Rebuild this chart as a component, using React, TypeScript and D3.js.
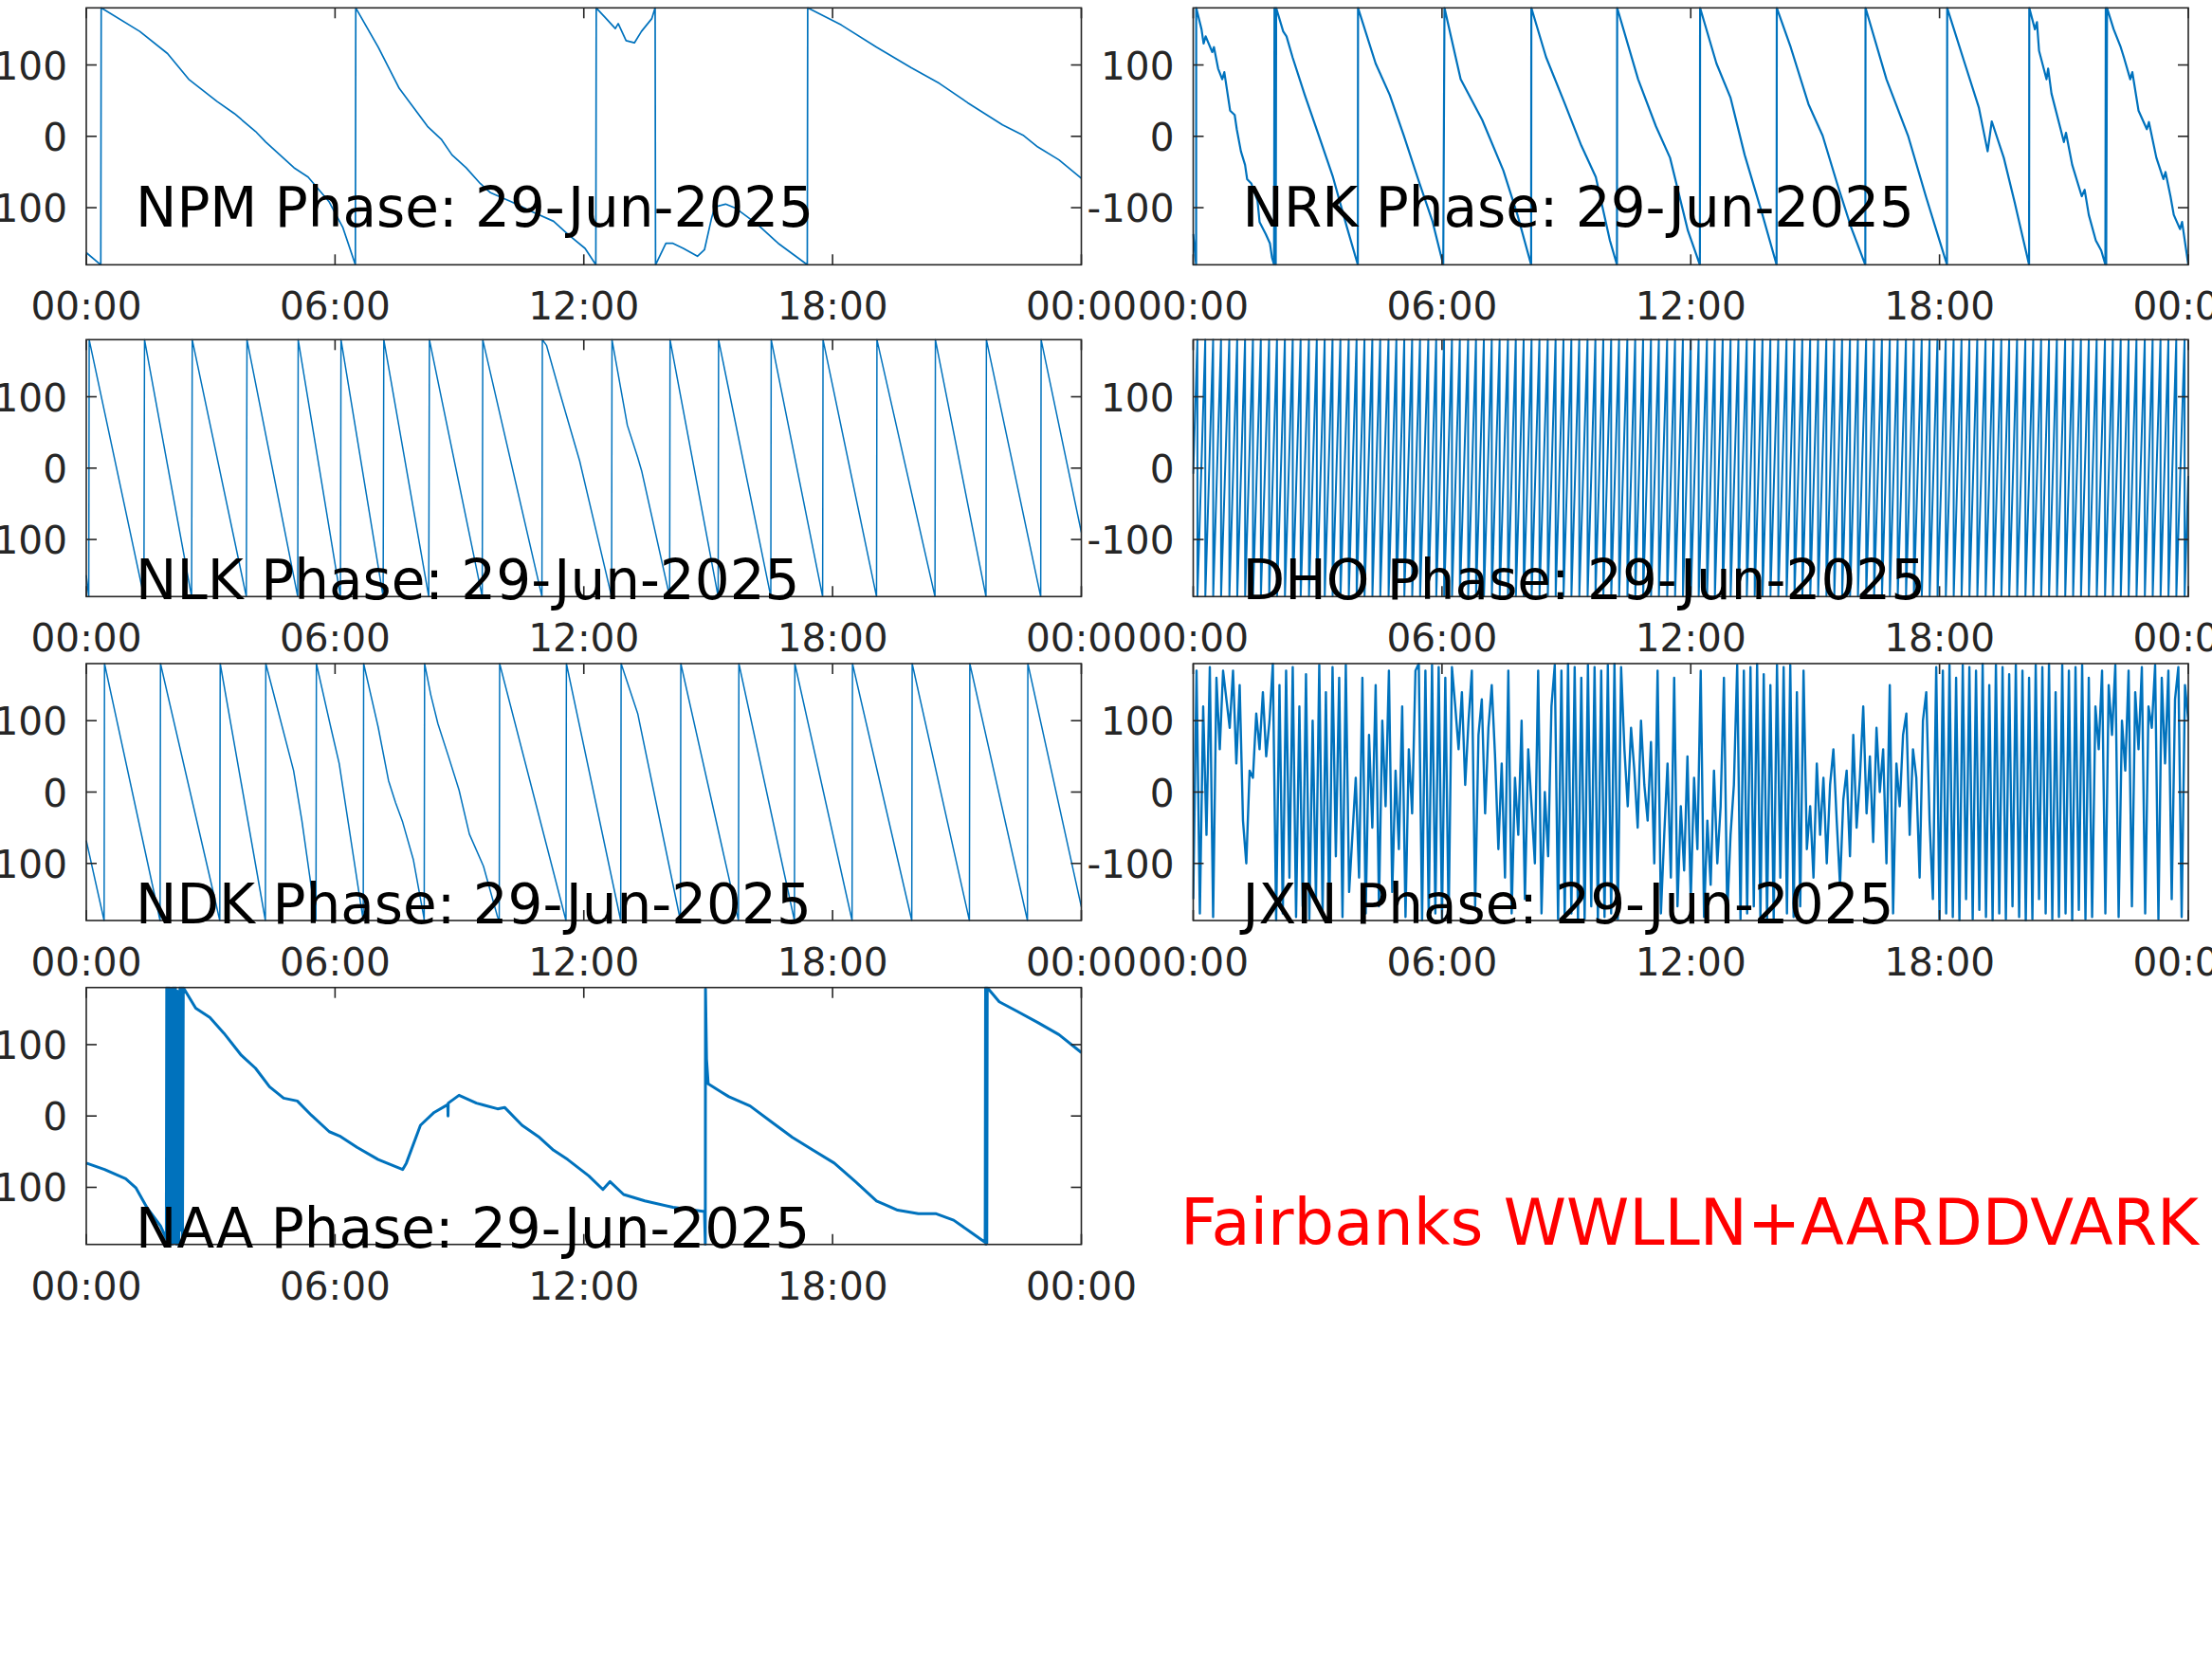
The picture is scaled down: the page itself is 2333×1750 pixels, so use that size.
import React from 'react';
import * as d3 from 'd3';

// ---------- data (hours since 00:00, phase in degrees) ----------
const dateLabel = '29-Jun-2025';
const xTickHours = [0, 6, 12, 18, 24];
const xTickLabels = ['00:00', '06:00', '12:00', '18:00', '00:00'];
const yTickValues = [-100, 0, 100];
const yTickLabels = ['-100', '0', '100'];
const footerText = 'Fairbanks WWLLN+AARDDVARK';

const npmPoints: [number, number][] = [
  [0, -163], [0.35, -180], [0.36, 180], [1.29, 147], [1.96, 116], [2.47, 80], [3.15, 49], [3.57, 32],
  [4.08, 7], [4.33, -8], [4.67, -26], [5.01, -44], [5.35, -57], [5.86, -92], [6.19, -128], [6.49, -180],
  [6.5, 180], [7.04, 125], [7.55, 67], [8.23, 14], [8.56, -4], [8.82, -26], [9.16, -44], [9.5, -66],
  [9.75, -79], [10.26, -92], [10.76, -106], [11.27, -119], [11.61, -137], [12.03, -157], [12.29, -180],
  [12.3, 180], [12.54, 165], [12.76, 151], [12.83, 158], [13.02, 134], [13.22, 131], [13.39, 147],
  [13.64, 165], [13.72, 180], [13.73, -180], [13.98, -150], [14.15, -150], [14.4, -157], [14.74, -168],
  [14.91, -159], [15.08, -115], [15.16, -99], [15.42, -95], [15.67, -101], [16.18, -123], [16.69, -150],
  [17.39, -180], [17.4, 180], [18.21, 156], [19.06, 125], [19.9, 96], [20.58, 74], [21.26, 47],
  [22.1, 16], [22.61, 1], [22.95, -15], [23.46, -33], [24, -59],
];

const nrkPoints: [number, number][] = [
  [0, -137], [0.07, -180], [0.072, 180], [0.2, 150], [0.25, 130], [0.3, 140], [0.46, 118], [0.5, 125],
  [0.6, 95], [0.7, 80], [0.75, 90], [0.89, 36], [1.0, 30], [1.05, 10], [1.15, -21], [1.25, -40],
  [1.3, -60], [1.4, -66], [1.55, -90], [1.6, -120], [1.75, -137], [1.85, -150], [1.9, -170],
  [1.95, -180], [1.96, 180], [1.98, 120], [1.99, -180], [2.0, 180], [2.17, 147], [2.25, 140],
  [2.4, 110], [2.69, 58], [3.03, 1], [3.37, -57], [3.71, -128], [3.97, -180], [3.975, 180], [4.4, 102],
  [4.74, 58], [5.08, 1], [5.43, -61], [5.77, -119], [6.03, -180], [6.06, 180], [6.45, 80], [6.97, 23],
  [7.48, -48], [7.82, -110], [8.15, -180], [8.155, 180], [8.51, 111], [8.94, 49], [9.36, -13],
  [9.71, -57], [10.05, -146], [10.22, -180], [10.225, 180], [10.73, 80], [11.16, 14], [11.5, -30],
  [11.93, -132], [12.22, -180], [12.225, 180], [12.62, 102], [12.96, 54], [13.3, -26], [13.73, -110],
  [14.07, -180], [14.075, 180], [14.41, 125], [14.84, 45], [15.18, 1], [15.53, -66], [15.87, -128],
  [16.21, -180], [16.215, 180], [16.72, 80], [17.24, 1], [17.67, -84], [18.18, -180], [18.185, 180],
  [18.61, 102], [18.95, 40], [19.16, -21], [19.26, 21], [19.55, -30], [19.81, -92], [20.16, -180],
  [20.165, 180], [20.3, 150], [20.35, 160], [20.4, 120], [20.58, 80], [20.62, 95], [20.7, 60],
  [21.0, -8], [21.05, 5], [21.2, -40], [21.43, -84], [21.5, -75], [21.6, -110], [21.77, -146],
  [21.9, -160], [22.0, -180], [22.01, 180], [22.02, -180], [22.04, 180], [22.2, 150], [22.37, 125],
  [22.45, 110], [22.6, 80], [22.65, 90], [22.8, 36], [23.0, 10], [23.05, 20], [23.23, -30], [23.4, -60],
  [23.45, -50], [23.57, -84], [23.65, -110], [23.8, -130], [23.85, -120], [24, -180],
];

const nlkPoints: [number, number][] = [
  [0, -150], [0.06, -180], [0.07, 180], [1.39, -180], [1.405, 180], [2.54, -180], [2.556, 180],
  [3.86, -180], [3.876, 180], [5.1, -180], [5.111, 180], [6.13, -180], [6.144, 180], [7.16, -180],
  [7.176, 180], [8.26, -180], [8.276, 180], [9.55, -180], [9.563, 180], [10.99, -180], [11.0, 180],
  [11.1, 172], [11.4, 110], [11.9, 10], [12.67, -180], [12.68, 180], [13.05, 60], [13.3, 15],
  [13.4, -5], [14.07, -180], [14.08, 180], [15.24, -180], [15.25, 180], [16.51, -180], [16.52, 180],
  [17.76, -180], [17.77, 180], [19.06, -180], [19.07, 180], [20.47, -180], [20.48, 180], [21.7, -180],
  [21.71, 180], [23.02, -180], [23.03, 180], [24, -90],
];

const dhoStartPhase = -8;
const dhoEndPhase = -11;
const dhoWrapHours = [
  0.10, 0.29, 0.48, 0.67, 0.87, 1.06, 1.25, 1.44, 1.63, 1.83, 2.02, 2.21, 2.40, 2.59, 2.79, 2.98,
  3.17, 3.36, 3.55, 3.75, 3.94, 4.13, 4.32, 4.51, 4.71, 4.90, 5.09, 5.28, 5.47, 5.67, 5.86, 6.05,
  6.24, 6.43, 6.63, 6.82, 7.01, 7.20, 7.39, 7.59, 7.78, 7.97, 8.16, 8.35, 8.55, 8.74, 8.93, 9.12,
  9.31, 9.51, 9.70, 9.89, 10.08, 10.27, 10.47, 10.66, 10.85, 11.04, 11.23, 11.43, 11.62, 11.81,
  12.00, 12.19, 12.39, 12.58, 12.77, 12.96, 13.15, 13.35, 13.54, 13.73, 13.92, 14.11, 14.31, 14.50,
  14.69, 14.88, 15.07, 15.27, 15.46, 15.65, 15.84, 16.03, 16.23, 16.42, 16.61, 16.80, 16.99, 17.19,
  17.38, 17.57, 17.76, 17.95, 18.15, 18.34, 18.53, 18.72, 18.91, 19.11, 19.30, 19.49, 19.68, 19.87,
  20.07, 20.26, 20.45, 20.64, 20.83, 21.03, 21.22, 21.41, 21.60, 21.79, 21.99, 22.18, 22.37, 22.56,
  22.75, 22.95, 23.14, 23.33, 23.52, 23.71, 23.91,
];

const ndkPoints: [number, number][] = [
  [0, -68], [0.43, -180], [0.44, 180], [1.78, -180], [1.79, 180], [3.22, -180], [3.23, 180],
  [4.32, -180], [4.33, 180], [5.0, 30], [5.2, -40], [5.54, -180], [5.55, 180], [5.9, 90], [6.1, 40],
  [6.68, -180], [6.69, 180], [7.04, 91], [7.29, 16], [7.46, -15], [7.63, -42], [7.89, -95],
  [8.14, -175], [8.15, -180], [8.16, 180], [8.31, 136], [8.48, 96], [8.73, 51], [8.99, 3],
  [9.24, -59], [9.58, -104], [9.92, -175], [9.96, -180], [9.97, 180], [11.57, -180], [11.58, 180],
  [12.89, -180], [12.9, 180], [13.3, 110], [14.33, -180], [14.34, 180], [15.73, -180], [15.74, 180],
  [17.08, -180], [17.09, 180], [18.47, -180], [18.48, 180], [19.91, -180], [19.92, 180],
  [21.3, -180], [21.31, 180], [22.7, -180], [22.71, 180], [24, -161],
];

const jxnPhase = [
  -150, 170, -170, 120, -60, 175, -175, 160, 60, 170, 130, 90, 170, 40, 150,
  -40, -100, 30, 20, 110, 60, 140, 50, 100,
  180, -180, 150, -170, 170, -120, 175, -175, 120, -160, 165, -178, 100, -150, 178, -170, 140, -180, 175, -90, 160, -175, 178, -140,
  -60, 20, -120, 160, -170, 80, -50, 150, -160, 100, -20, 170, -140, 30, -80, 120, -175, 60, -30, 170,
  180, -180, 170, -175, 178, -170, 175, -178, 160, -180, 175,
  120, 60, 140, 10, 100, 170, -160, 80, 130, -30, 90, 150, 50,
  -80, 40, -120, 170, -170, 20, -60, 100, -150, 60, -20, -100, 170, -170, 0, -90, 120,
  178, -178, 170, -175, 180, -170, 175, -180, 160, -178, 178, -160, 175, -180, 170, -175, 178, -170, 180, -178, 175,
  60, -20, 90, 30, -50, 100, 10, -40, 70,
  -100, 170, -170, -60, 40, -120, 160, -160, -20, -110, 50, -150, 20, -80, 170, -175, -40, -130, 30, -100, -20, 160, -170, -60, 10,
  178, -178, 170, -170, 175, -160, 180, -175, 165, -178, 150, -180, 178, -120, 175, -170, 178, -175, 140, -160, 170,
  -80, -20, -120, 40, -60, 20, -100, 10, 60, -40, -130, -10, 30, -90, 80, -50, 20, 120, -30, 50, -70, 90, 0, 60, -100, 150, -170, 40, -20, 80, 110, -60, 60, 20, -120, 100, 140, -40, -150,
  175, -178, 170, -170, 178, -175, 160, -180, 178, -150, 175, -178, 170, -165, 180, -175, 150, -180, 178, -170, 175, -178, 165, -160,
  178, -175, 170, -180, 160, -178, 178, -150, 175, -170, 180, -178, 140, -175, 178, -170, 170, -180, 175, -165, 178, -178, 160, -175,
  120, 60, 170, -170, 150, 80, 178, -175, 100, 30, 170, -160, 140, 60, 175, -170, 120, 90, 178, -178, 160, 40, 170, -150, 130, 175, -175, 150, 100,
];

const naaPoints: [number, number][] = [
  [0, -66], [0.44, -75], [0.95, -88], [1.2, -101], [1.46, -128], [1.79, -154], [1.93, -172],
  [1.94, 180], [1.95, -180], [1.97, 180], [1.98, -175], [2.0, 180], [2.02, -180], [2.05, 178],
  [2.07, -180], [2.1, 180], [2.12, -178], [2.15, 180], [2.18, -180], [2.2, 175], [2.23, -180],
  [2.26, 180], [2.28, -160], [2.3, 180], [2.32, -180], [2.34, 180], [2.64, 151], [2.98, 138],
  [3.32, 116], [3.74, 85], [4.08, 67], [4.42, 41], [4.76, 25], [5.09, 21], [5.43, 1], [5.86, -22],
  [6.11, -28], [6.53, -44], [7.04, -61], [7.63, -75], [7.72, -66], [8.06, -13], [8.39, 5], [8.72, 16],
  [8.725, 0], [8.73, 18], [8.99, 29], [9.41, 18], [9.92, 10], [10.09, 12], [10.51, -13], [10.93, -30],
  [11.27, -48], [11.61, -61], [12.12, -84], [12.46, -103], [12.63, -92], [12.96, -110], [13.47, -119],
  [14.15, -128], [14.91, -134], [14.93, -180], [14.935, 178], [14.96, 80], [15.0, 45], [15.5, 27],
  [16.01, 14], [16.52, -8], [17.03, -30], [17.53, -48], [18.04, -66], [18.55, -92], [19.06, -119],
  [19.57, -132], [20.07, -137], [20.5, -137], [20.92, -146], [21.34, -163], [21.68, -177],
  [21.69, 180], [21.7, -180], [21.71, 180], [21.72, -178], [21.73, 180], [22.02, 160], [22.44, 147],
  [22.95, 131], [23.46, 114], [24, 89],
];

// ---------- derived series ----------
const dhoPoints: [number, number][] = [
  [0, dhoStartPhase],
  ...dhoWrapHours.flatMap((w) => [[w, 180], [w + 0.002, -180]] as [number, number][]),
  [24, dhoEndPhase],
];
const jxnStep = 24 / (jxnPhase.length - 1);
const jxnPoints: [number, number][] = jxnPhase.map((v, i) => [i * jxnStep, v]);

// ---------- layout ----------
const W = 2333;
const H = 1750;
const colLeft = [91, 1258.5];
const plotW = 1049.5;
const rowTop = [8.3, 358.3, 700, 1041.7];
const plotH = 271;
const axisColor = '#262626';
const lineColor = '#0072BD';
const font = "'DejaVu Sans', Verdana, sans-serif";
const tickFont = 40.6;
const titleFont = 58;

const panels = [
  { name: 'NPM', pts: npmPoints, col: 0, row: 0, sw: 1.7 },
  { name: 'NRK', pts: nrkPoints, col: 1, row: 0, sw: 2.2 },
  { name: 'NLK', pts: nlkPoints, col: 0, row: 1, sw: 1.5 },
  { name: 'DHO', pts: dhoPoints, col: 1, row: 1, sw: 2.0 },
  { name: 'NDK', pts: ndkPoints, col: 0, row: 2, sw: 1.5 },
  { name: 'JXN', pts: jxnPoints, col: 1, row: 2, sw: 2.4 },
  { name: 'NAA', pts: naaPoints, col: 0, row: 3, sw: 3.0 },
];

function Panel({ p }: { p: typeof panels[number] }) {
  const left = colLeft[p.col];
  const top = rowTop[p.row];
  const x = d3.scaleLinear().domain([0, 24]).range([left, left + plotW]);
  const y = d3.scaleLinear().domain([-180, 180]).range([top + plotH, top]);
  const line = d3.line<[number, number]>().x((d) => x(d[0])).y((d) => y(d[1]));
  const bottom = top + plotH;
  const right = left + plotW;
  const tl = 11;
  const titleY = p.row === 0 ? bottom - 40 : bottom + 3;
  const clipId = `clip-${p.name}`;
  return (
    <g>
      <defs>
        <clipPath id={clipId}>
          <rect x={left - 1} y={top - 1} width={plotW + 2} height={plotH + 2} />
        </clipPath>
      </defs>
      <path
        d={line(p.pts) || ''}
        fill="none"
        stroke={lineColor}
        strokeWidth={p.sw}
        strokeLinejoin="round"
        clipPath={`url(#${clipId})`}
      />
      <rect x={left} y={top} width={plotW} height={plotH} fill="none" stroke={axisColor} strokeWidth={1.6} />
      {xTickHours.map((h, i) => (
        <g key={'x' + i}>
          <line x1={x(h)} x2={x(h)} y1={bottom} y2={bottom - tl} stroke={axisColor} strokeWidth={1.6} />
          <line x1={x(h)} x2={x(h)} y1={top} y2={top + tl} stroke={axisColor} strokeWidth={1.6} />
          <text x={x(h)} y={bottom + 58} textAnchor="middle" fontSize={tickFont} fill={axisColor} fontFamily={font}>
            {xTickLabels[i]}
          </text>
        </g>
      ))}
      {yTickValues.map((v, i) => (
        <g key={'y' + i}>
          <line x1={left} x2={left + tl} y1={y(v)} y2={y(v)} stroke={axisColor} strokeWidth={1.6} />
          <line x1={right} x2={right - tl} y1={y(v)} y2={y(v)} stroke={axisColor} strokeWidth={1.6} />
          <text x={left - 20} y={y(v) + 15} textAnchor="end" fontSize={tickFont} fill={axisColor} fontFamily={font}>
            {yTickLabels[i]}
          </text>
        </g>
      ))}
      <text x={left + 52} y={titleY} fontSize={titleFont} fill="#000" fontFamily={font}>
        {`${p.name} Phase: ${dateLabel}`}
      </text>
    </g>
  );
}

export default function App() {
  return (
    <svg
      width={W}
      height={H}
      viewBox={`0 0 ${W} ${H}`}
      style={{ position: 'absolute', left: 0, top: 0, display: 'block', background: '#fff' }}
    >
      <rect x={0} y={0} width={W} height={H} fill="#fff" />
      {panels.map((p) => (
        <Panel key={p.name} p={p} />
      ))}
      <text x={1245} y={1313} fontSize={67} fill="#FF0000" fontFamily={font}>
        {footerText}
      </text>
    </svg>
  );
}
